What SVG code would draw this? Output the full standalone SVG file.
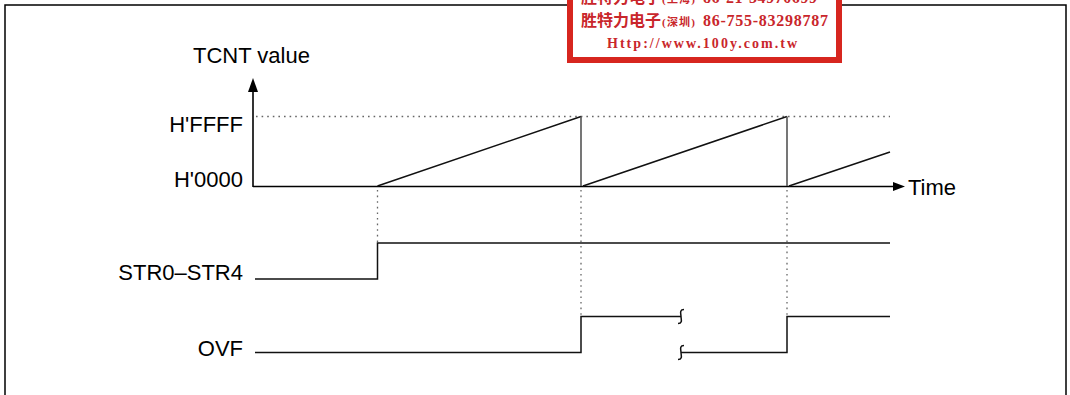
<svg xmlns="http://www.w3.org/2000/svg" width="1070" height="395" viewBox="0 0 1070 395">
<style>
.lbl{font-family:"Liberation Sans",Arial,sans-serif;font-size:22px;fill:#000}
.ax{stroke:#000;stroke-width:1.6;fill:none}
.sig{stroke:#111;stroke-width:1.5;fill:none}
.drop{stroke:#555;stroke-width:1.6;fill:none}
.dot{stroke:#666;stroke-width:1.3;stroke-dasharray:1.6 4;fill:none}
.stamp{font-family:"Liberation Serif","Noto Sans CJK SC",serif;font-weight:bold;fill:#c9262b}
</style>
<rect width="1070" height="395" fill="#fff"/>
<path d="M5,400 V5 H1066 V400" fill="none" stroke="#000" stroke-width="1.5"/>
<g id="stamp">
<rect x="570" y="-10" width="269" height="70" fill="#fff" stroke="#d7261f" stroke-width="6"/>
<text class="stamp" y="3"><tspan x="581" font-size="16" textLength="80">胜特力电子</tspan><tspan x="662" font-size="11" textLength="33">(上海)</tspan><tspan x="703" font-size="16" textLength="114">86-21-34970699</tspan></text>
<text class="stamp" y="26"><tspan x="581" font-size="16" textLength="80">胜特力电子</tspan><tspan x="662" font-size="11" textLength="33">(深圳)</tspan><tspan x="703" font-size="16" textLength="125">86-755-83298787</tspan></text>
<text class="stamp" x="607" y="48" font-size="14" textLength="190">Http://www.100y.com.tw</text>
</g>
<g id="axes">
<line class="ax" x1="253" y1="187" x2="253" y2="88"/>
<polygon points="253,78 248,92 258,92" fill="#000"/>
<line class="ax" x1="253" y1="186.5" x2="896" y2="186.5"/>
<polygon points="905,186.5 893,182 893,191" fill="#000"/>
</g>
<g id="labels">
<text id="tcnt-label" class="lbl" x="193" y="63">TCNT value</text>
<text id="ffff-label" class="lbl" x="243" y="132" text-anchor="end">H'FFFF</text>
<text id="zero-label" class="lbl" x="243" y="187" text-anchor="end">H'0000</text>
<text id="time-label" class="lbl" x="908" y="195">Time</text>
<text id="str-label" class="lbl" x="243" y="280" text-anchor="end">STR0–STR4</text>
<text id="ovf-label" class="lbl" x="243" y="356" text-anchor="end">OVF</text>
</g>
<g id="connectors">
<path class="dot" d="M256,116.5 H890"/>
<path class="dot" d="M377.5,190 V242"/>
<path class="dot" d="M581,190 V315"/>
<path class="dot" d="M787,190 V315"/>
<path id="tcnt" class="sig" d="M377.5,186 L581,116.5 M583,186 L787,116.5 M789,186 L890,152"/>
<path class="drop" d="M581,116.5 V186 M787,116.5 V186"/>
<path id="str" class="sig" d="M255,279 H377.5 V243 H890"/>
<path id="ovf-a" class="sig" d="M255,352.5 H581 V316.5 H681"/>
<path id="ovf-b" class="sig" d="M681,352.5 H787 V316.5 H890"/>
<path class="sig" stroke-width="1.2" d="M684,309.5 C679,309.5 681,314 681,316.5 C681,319 683,323.5 678,323.5"/>
<path class="sig" stroke-width="1.2" d="M684,345.5 C679,345.5 681,350 681,352.5 C681,355 683,359.5 678,359.5"/>
</g>
</svg>
